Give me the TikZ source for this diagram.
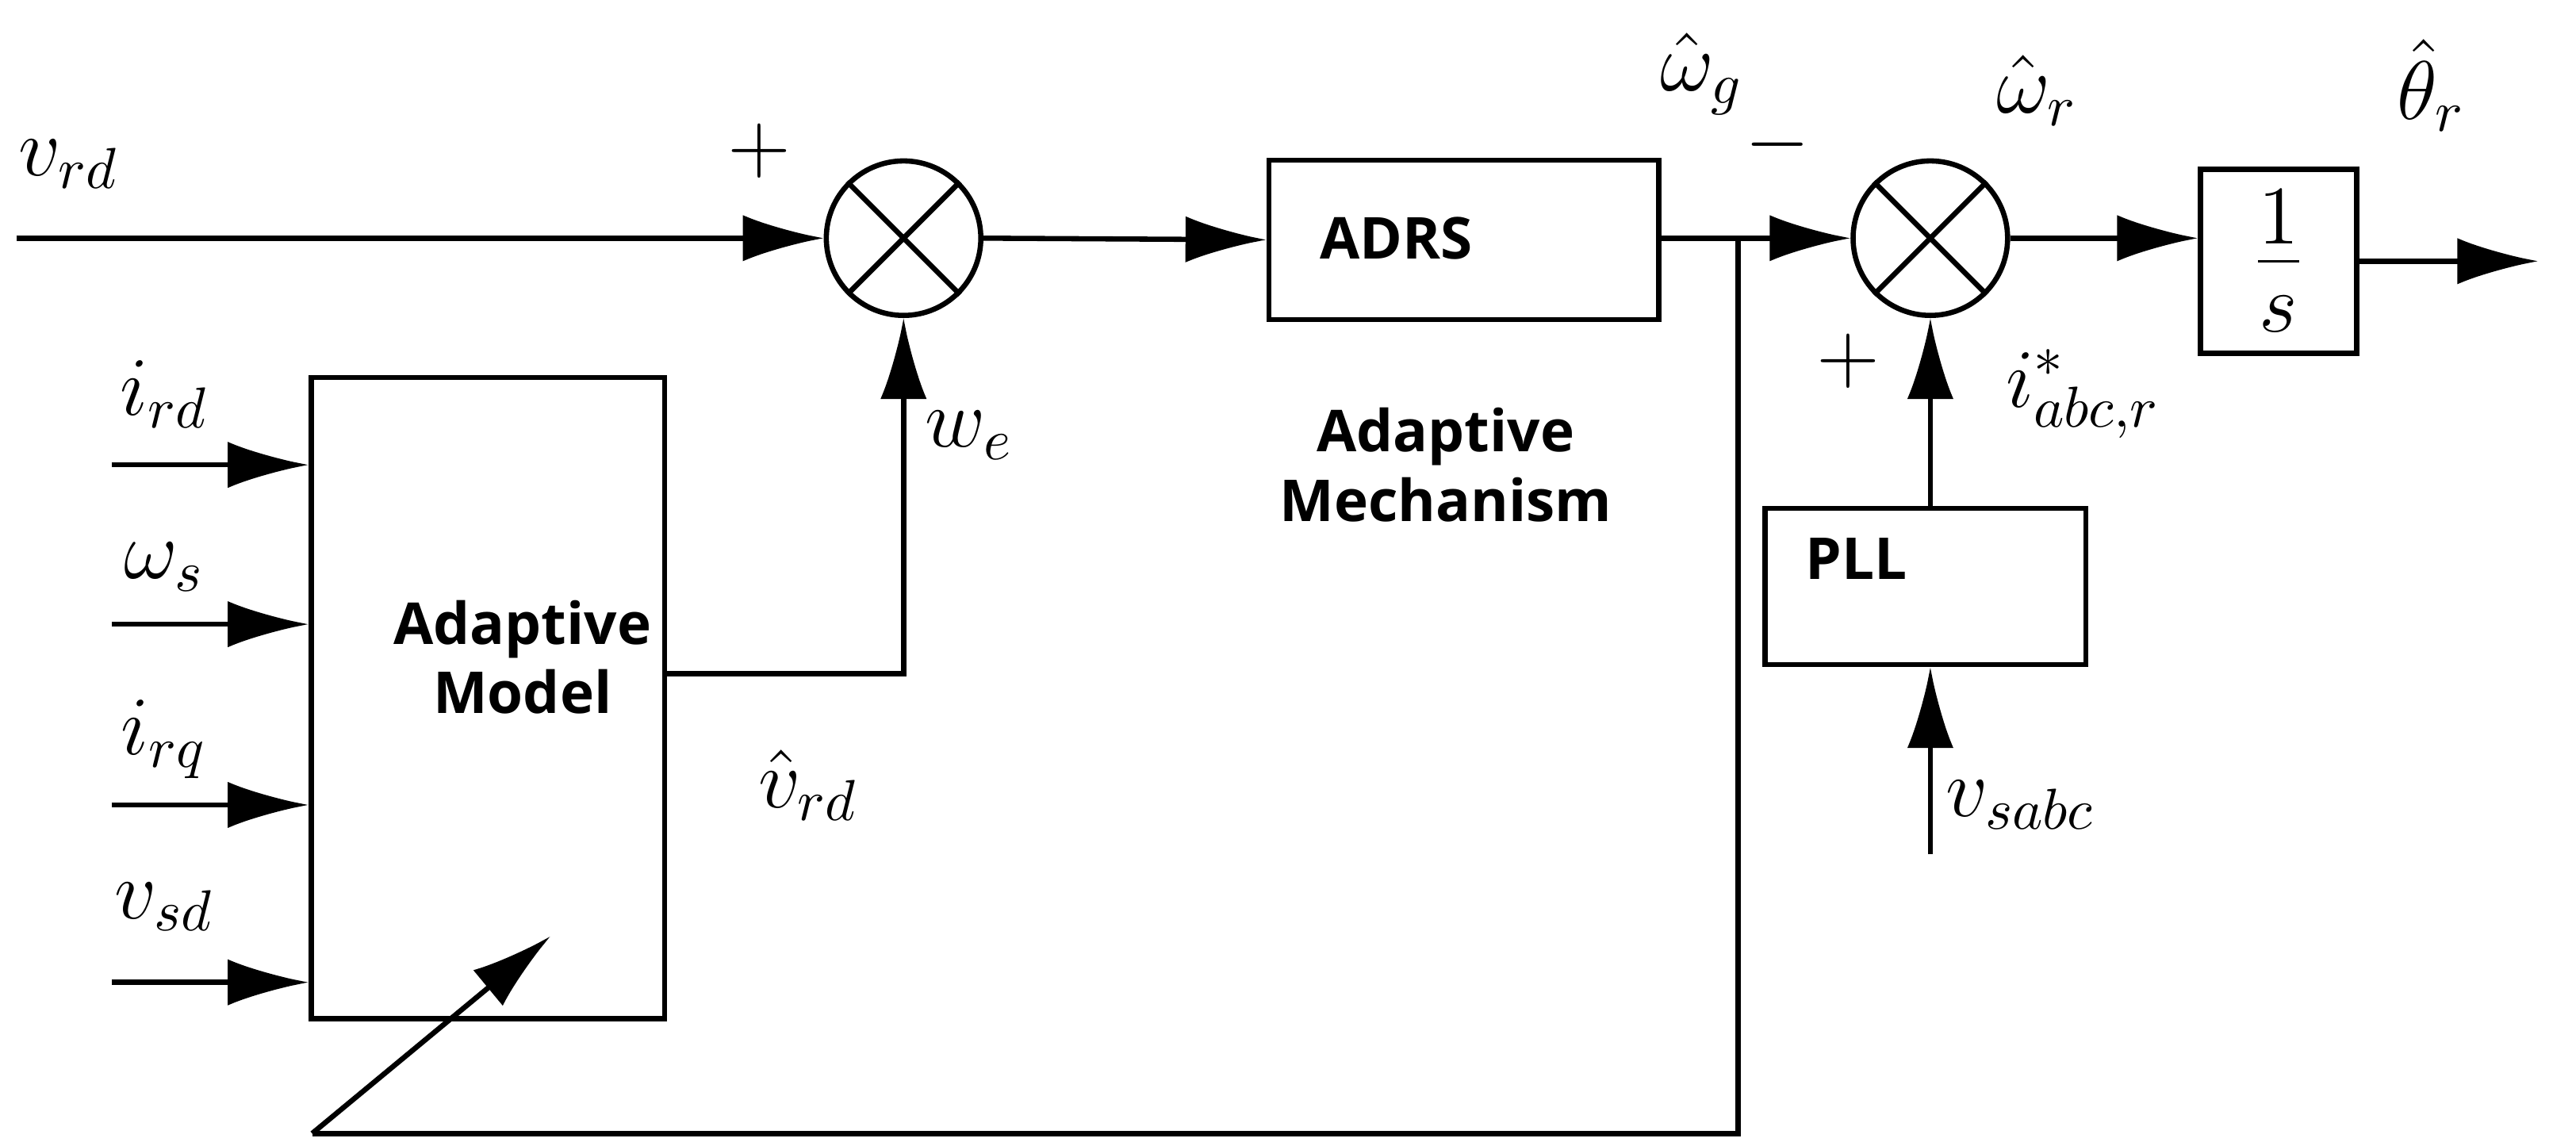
\documentclass[tikz,border=0pt]{standalone}
\usepackage{fontspec}
\newfontfamily\sansb{Open Sans}
\usetikzlibrary{arrows.meta}
\begin{document}
\begin{tikzpicture}[x=0.01cm,y=-0.01cm,
  line width=0.9pt,
  arr/.style={-{Latex[length=14pt,width=8pt]}},
  blk/.style={draw,rectangle,line width=0.9pt,inner sep=0pt},
  sumc/.style={draw,circle,minimum size=0.94cm,inner sep=0pt},
  lab/.style={font=\Large},
  btxt/.style={font=\sansb\bfseries,align=center}]
\useasboundingbox (0,0) rectangle (1568,695);
% blocks
\node[sumc] (s1) at (550,145) {};
\node[sumc] (s2) at (1175,145) {};
\foreach \s in {s1,s2}{\draw (\s.north east)--(\s.south west) (\s.north west)--(\s.south east);}
\node[blk,minimum width=2.37cm,minimum height=0.97cm] (adrs) at (891,146) {};
\node[btxt] at (850,145) {ADRS};
\node[btxt] at (880,283) {Adaptive\\Mechanism};
\node[blk,minimum width=0.95cm,minimum height=1.12cm] (int) at (1387,159) {};
\node[font=\huge] at (1387,159) {$\frac{1}{s}$};
\node[blk,minimum width=1.95cm,minimum height=0.95cm] (pll) at (1172,357) {};
\node[btxt] at (1130,340) {PLL};
\node[blk,minimum width=2.15cm,minimum height=3.9cm] (am) at (297,425) {};
\node[btxt] at (318,400) {Adaptive\\Model};
% coordinates
\coordinate (in1) at (10,145);
\coordinate (br) at (1058,145);
\coordinate (fb1) at (335,570);
\coordinate (out) at (1545,159);
\coordinate (vs) at (1175,520);
\coordinate (amo) at (405,410);
\coordinate (c1) at (550,410);
% connectors
\draw[arr] (in1) -- (s1.west);
\draw[arr] (s1.east) -- (adrs.west);
\draw[arr] (adrs.east |- s2.west) -- (s2.west);
\draw (br) -- (1058,690) -- (190,690) coordinate(fb0);
\draw[arr] (fb0) -- (fb1);
\draw[arr] (s2.east) -- (int.west |- s2.east);
\draw[arr] (int.east) -- (out);
\draw[arr] (pll.north -| s2.south) -- (s2.south);
\draw[arr] (vs) -- (pll.south -| vs);
\draw[arr] (amo) -- (c1) -- (s1.south);
\foreach \y/\n in {283/a,380/b,490/c,598/d}{
  \coordinate (i\n) at (68,\y);
  \draw[arr] (i\n) -- (am.west |- i\n);}
% labels
\node[lab] at (42,100) {$v_{rd}$};
\node[lab] at (462,92) {$+$};
\node[lab] at (590,265) {$w_e$};
\node[lab] at (492,478) {$\hat{v}_{rd}$};
\node[lab] at (1036,45) {$\hat{\omega}_g$};
\node[lab] at (1082,88) {$-$};
\node[lab] at (1240,55) {$\hat{\omega}_r$};
\node[lab] at (1480,52) {$\hat{\theta}_r$};
\node[lab] at (1268,240) {$i^{*}_{abc,r}$};
\node[lab] at (1125,220) {$+$};
\node[lab] at (1230,490) {$v_{sabc}$};
\node[lab] at (100,240) {$i_{rd}$};
\node[lab] at (100,345) {$\omega_s$};
\node[lab] at (100,450) {$i_{rq}$};
\node[lab] at (100,552) {$v_{sd}$};
\end{tikzpicture}
\end{document}
